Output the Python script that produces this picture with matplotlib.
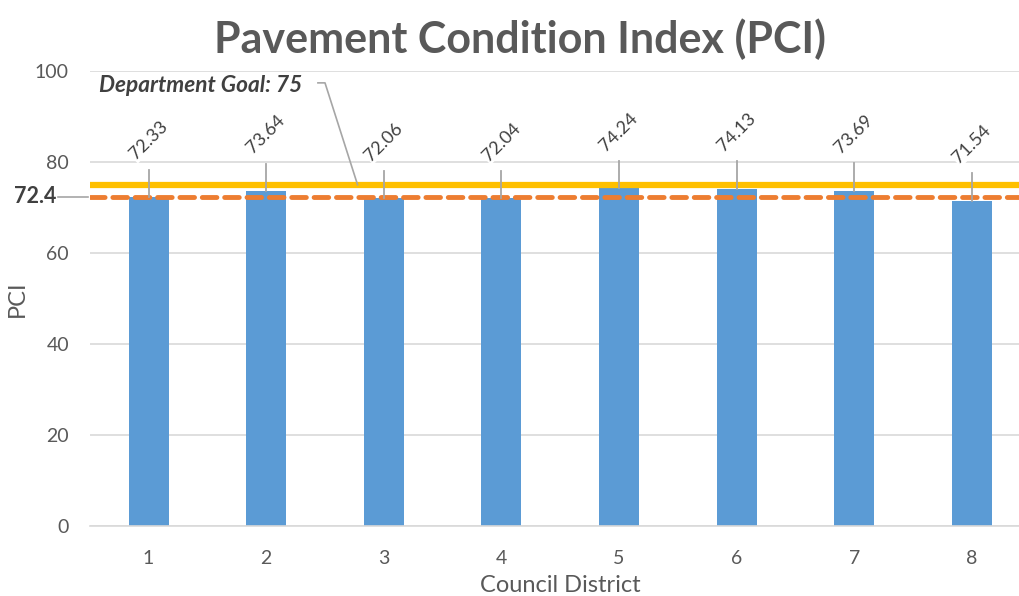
import matplotlib
matplotlib.use('Agg')
import matplotlib.pyplot as plt
import matplotlib.transforms as mtransforms

plt.rcParams['font.family'] = ['Lato', 'DejaVu Sans']

districts = [1, 2, 3, 4, 5, 6, 7, 8]
pci = [72.33, 73.64, 72.06, 72.04, 74.24, 74.13, 73.69, 71.54]
goal = 75
average = 72.4
yticks = [0, 20, 40, 60, 80, 100]

text_gray = '#595959'
leader_gray = '#A6A6A6'

fig = plt.figure(figsize=(10.2, 5.96), dpi=100)
ax = fig.add_axes([0.088, 0.1174, 0.9225, 0.7634])

ax.bar(districts, pci, width=0.34, color='#5B9BD5', zorder=2)
ax.axhline(goal, color='#FFC000', lw=4.5, zorder=3)
ax.axhline(average, color='#ED7D31', lw=3.5, ls=(0, (3, 1.6)),
           dash_capstyle='round', zorder=4)

# data labels with leader lines
for x, v in zip(districts, pci):
    ax.plot([x, x], [v, v + 6], color=leader_gray, lw=1.3, zorder=5)
    ax.text(x, v + 12.4, f'{v:.2f}', rotation=45, ha='center', va='center',
            fontsize=13, color='#404040', zorder=6,
            bbox=dict(facecolor='white', edgecolor='none', pad=0.5))

# goal label
ax.text(0.58, 96.9, f'Department Goal: {goal}', ha='left', va='center',
        fontsize=16.3, fontweight='bold', fontstyle='italic', color='#404040')
ax.plot([2.44, 2.5, 2.777], [97.4, 97.4, goal], color=leader_gray, lw=1.2,
        zorder=5)

# average label on the left
trans = mtransforms.blended_transform_factory(ax.transAxes, ax.transData)
ax.text(-0.036, average, f'{average}', transform=trans, ha='right',
        va='center', fontsize=15.5, fontweight='bold', color='#404040')
ax.plot([-0.034, -0.002], [average, average], transform=trans,
        color=leader_gray, lw=1.2, clip_on=False)

ax.set_xlim(0.5, 8.5)
ax.set_ylim(0, 100)
ax.set_yticks(yticks)
ax.set_xticks(districts)
ax.yaxis.grid(True, color='#D9D9D9', lw=1.2, zorder=0)
ax.set_axisbelow(True)
for side in ['top', 'right', 'left']:
    ax.spines[side].set_visible(False)
ax.spines['bottom'].set_color('#D9D9D9')
ax.spines['bottom'].set_linewidth(1.2)
ax.tick_params(length=0, labelsize=14, colors=text_gray, pad=17)
ax.tick_params(axis='y', pad=15)

ax.set_xlabel('Council District', fontsize=17, color=text_gray, labelpad=6)
ax.set_ylabel('PCI', fontsize=17, color=text_gray, labelpad=5)
fig.text(0.51, 0.935, 'Pavement Condition Index (PCI)', ha='center',
         va='center', fontsize=31, fontweight='bold', color=text_gray)

fig.savefig('out.png', dpi=100)
